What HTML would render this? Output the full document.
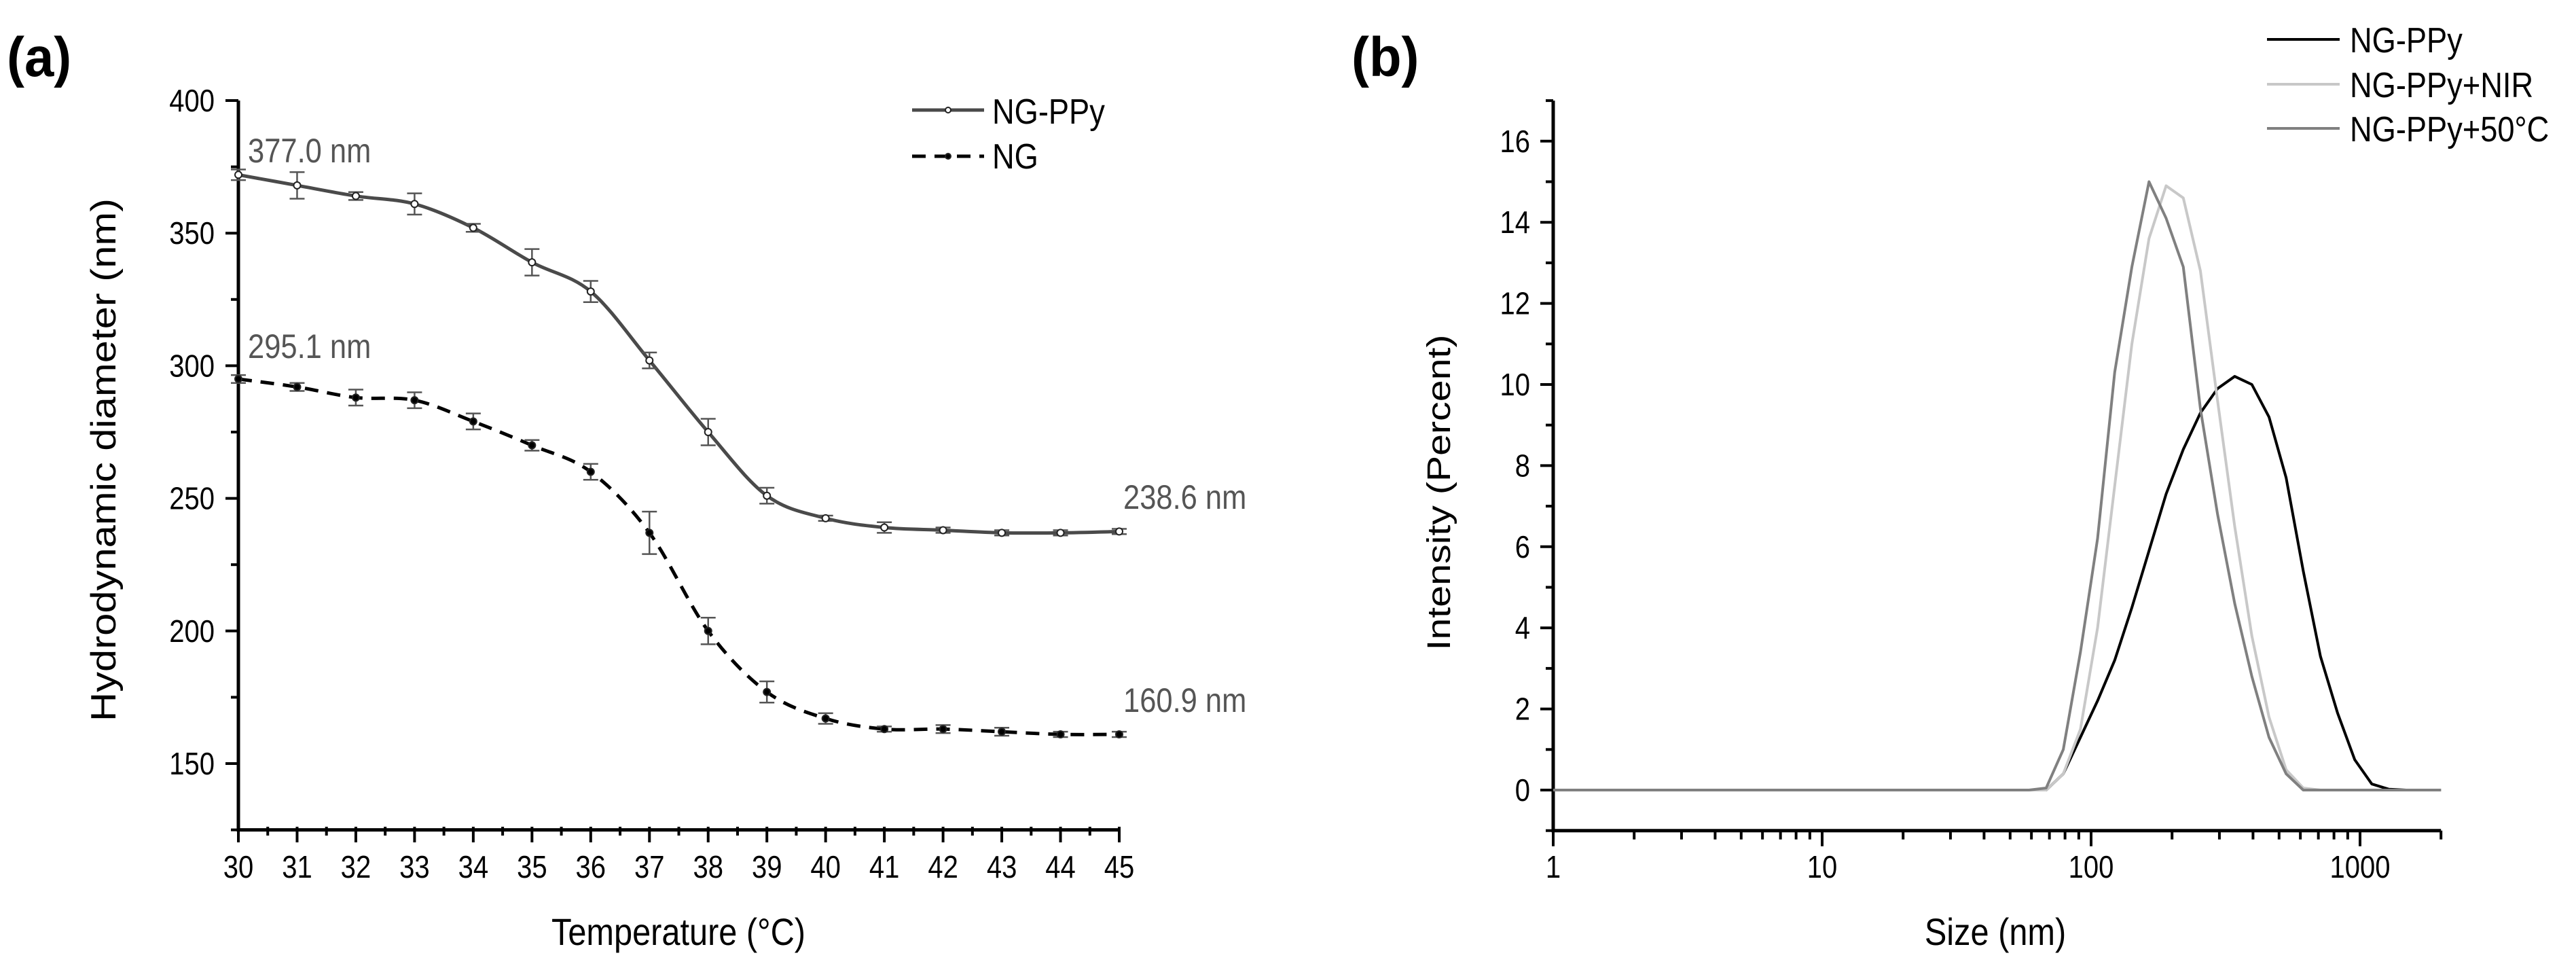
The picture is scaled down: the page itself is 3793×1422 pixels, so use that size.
<!DOCTYPE html>
<html><head><meta charset="utf-8"><style>
html,body{margin:0;padding:0;background:#fff;}
svg{display:block;font-family:"Liberation Sans",Arial,sans-serif;}
</style></head><body>
<svg id="fig" width="3793" height="1422" viewBox="0 0 3793 1422" xmlns="http://www.w3.org/2000/svg"></svg>
<script>
// ---- Panel (a) data ----
const tempsA = [30,31,32,33,34,35,36,37,38,39,40,41,42,43,44,45];
const ngppyA = [372,368,364,361,352,339,328,302,275,251,242.5,239,238,237,237,237.5];
const ngppyErr = [2,5,1.5,4,1.5,5,4,3,5,3,1,2,1,1,1,1];
const ngA = [295,292,288,287,279,270,260,237,200,177,167,163,163,162,161,161];
const ngErr = [1.5,1.5,3,3,3,2,3,8,5,4,2,1,1.5,1.5,1,1];
const yTicksA = [150,200,250,300,350,400];
const xTicksA = [30,31,32,33,34,35,36,37,38,39,40,41,42,43,44,45];
// ---- Panel (b) data ----
const sizesB = [1,58.77,68.06,78.82,91.28,105.7,122.4,141.8,164.2,190.1,220.2,255.0,295.3,342.0,396.1,458.7,531.2,615.1,712.4,825.0,955.4,1106,1281,1484,2000];
const blackB = [0,0,0,0.4,1.3,2.2,3.2,4.5,5.9,7.3,8.4,9.3,9.9,10.2,10.0,9.2,7.7,5.4,3.3,1.9,0.75,0.15,0.02,0,0];
const nirB   = [0,0,0,0.4,1.5,4.0,7.5,11.0,13.6,14.9,14.6,12.8,9.6,6.5,3.8,1.8,0.5,0.05,0,0,0,0,0,0,0];
const c50B   = [0,0,0.05,1.0,3.4,6.2,10.3,12.9,15.0,14.1,12.9,9.4,6.8,4.6,2.8,1.3,0.4,0,0,0,0,0,0,0,0];
const yTicksB = [0,2,4,6,8,10,12,14,16];
const xTicksB = [1,10,100,1000];

const NS="http://www.w3.org/2000/svg";
const svg=document.getElementById('fig');
function el(tag,attrs,parent){const e=document.createElementNS(NS,tag);for(const k in attrs)e.setAttribute(k,attrs[k]);(parent||svg).appendChild(e);return e;}
function txt(x,y,s,size,anchor,sx,fill,weight,parent){
  const t=el('text',{transform:`translate(${x},${y}) scale(${sx},1)`,'font-size':size,'text-anchor':anchor,fill:fill||'#000','font-weight':weight||'normal'},parent);
  t.textContent=s;return t;}

const xA=v=>351+(v-30)*(1648-351)/15;
const yA=v=>148+(400-v)*(1124-148)/250;
const xB=v=>2287+Math.log10(v)*396;
const yB=v=>1163-v*59.7;

// ---------- Panel (a) ----------
const gA=el('g',{});


const la=txt(10,112,'(a)',82,'start',0.95,'#000','bold',gA);

const axA=el('path',{d:`M351,148 V${yA(125)} H1648`,stroke:'#000','stroke-width':5,fill:'none'},gA);

for(let v=125;v<=400;v+=25){
  const major=v%50===0;
  const tk=el('line',{x1:351,x2:major?332:340,y1:yA(v),y2:yA(v),stroke:'#000','stroke-width':4},gA);
  
}
yTicksA.forEach(v=>{const t=txt(316,yA(v)+16,String(v),46,'end',0.87,'#000','normal',gA);
  });
for(let v=30;v<=45;v+=0.5){
  const major=Number.isInteger(v);
  const tk=el('line',{x1:xA(v),x2:xA(v),y1:1217,y2:major?1240:1230,stroke:'#000','stroke-width':4},gA);
  
}
xTicksA.forEach(v=>{const t=txt(xA(v),1292,String(v),46,'middle',0.87,'#000','normal',gA);
  });
const xtA=txt(999,1391,'Temperature (°C)',56,'middle',0.87,'#000','normal',gA);

const ytA=el('text',{transform:'translate(170,677) rotate(-90)','font-size':52,'text-anchor':'middle',textLength:770,lengthAdjust:'spacingAndGlyphs'},gA);
ytA.textContent='Hydrodynamic diameter (nm)';


function smoothPath(xs,ys){
  const p=xs.map((x,i)=>[x,ys[i]]);let d=`M${p[0][0]},${p[0][1]}`;
  for(let i=0;i<p.length-1;i++){
    const p0=p[Math.max(0,i-1)],p1=p[i],p2=p[i+1],p3=p[Math.min(p.length-1,i+2)];
    const c1=[p1[0]+(p2[0]-p0[0])/6,p1[1]+(p2[1]-p0[1])/6];
    const c2=[p2[0]-(p3[0]-p1[0])/6,p2[1]-(p3[1]-p1[1])/6];
    d+=` C${c1[0]},${c1[1]} ${c2[0]},${c2[1]} ${p2[0]},${p2[1]}`;}
  return d;}
function seriesA(vals,errs,color,dash,fillMarker,name){
  const g=el('g',{},gA);
  
  const ln=el('path',{d:smoothPath(tempsA.map(xA),vals.map(yA)),stroke:color,'stroke-width':5,fill:'none','stroke-dasharray':dash},g);
  
  tempsA.forEach((t,i)=>{
    const x=xA(t),y1=yA(vals[i]+errs[i]),y2=yA(vals[i]-errs[i]);
    const eb=el('path',{d:`M${x},${y1} V${y2} M${x-11},${y1} H${x+11} M${x-11},${y2} H${x+11}`,stroke:'#555','stroke-width':2.5,fill:'none'},g);
    
    const m=el('circle',{cx:x,cy:yA(vals[i]),r:5,fill:fillMarker,stroke:'#222','stroke-width':2},g);
    
  });
}
seriesA(ngppyA,ngppyErr,'#4a4a4a','none','#fff','ngppy-series');
seriesA(ngA,ngErr,'#000','20,13','#000','ng-series');
[['377.0 nm',365,239],['295.1 nm',365,527],['238.6 nm',1654,749],['160.9 nm',1654,1048]].forEach(a=>{
  const t=txt(a[1],a[2],a[0],50,'start',0.87,'#555','normal',gA);
  });
const lgA=el('g',{},gA);

const l1=el('line',{x1:1343,x2:1449,y1:162,y2:162,stroke:'#4a4a4a','stroke-width':5},lgA);

el('circle',{cx:1396,cy:162,r:4,fill:'#fff',stroke:'#222','stroke-width':2},lgA);
const l2=el('line',{x1:1343,x2:1449,y1:230,y2:230,stroke:'#000','stroke-width':5,'stroke-dasharray':'20,13'},lgA);

el('circle',{cx:1396,cy:230,r:4,fill:'#000',stroke:'#222','stroke-width':2},lgA);
const lt1=txt(1461,182,'NG-PPy',52,'start',0.87,'#000','normal',lgA);

const lt2=txt(1461,248,'NG',52,'start',0.87,'#000','normal',lgA);


// ---------- Panel (b) ----------
const gB=el('g',{});

const lb=txt(1990,112,'(b)',82,'start',0.95,'#000','bold',gB);

const axB=el('path',{d:`M2287,${yB(17)} V${yB(-1)} H${xB(2000)}`,stroke:'#000','stroke-width':5,fill:'none'},gB);

for(let v=-1;v<=17;v++){
  const major=v%2===0;
  const tk=el('line',{x1:2287,x2:major?2268:2276,y1:yB(v),y2:yB(v),stroke:'#000','stroke-width':4},gB);
  
}
yTicksB.forEach(v=>{const t=txt(2253,yB(v)+16,String(v),46,'end',0.87,'#000','normal',gB);
  });
for(let d=1;d<=1000;d*=10){for(let k=1;k<=9;k++){const v=d*k;if(v>2000)break;
  const tk=el('line',{x1:xB(v),x2:xB(v),y1:yB(-1),y2:yB(-1)+(k===1?23:13),stroke:'#000','stroke-width':4},gB);
  }}
xTicksB.forEach(v=>{const t=txt(xB(v),1292,String(v),46,'middle',0.87,'#000','normal',gB);
  });
const xtB=txt(2938,1391,'Size (nm)',56,'middle',0.87,'#000','normal',gB);

const ytB=el('text',{transform:'translate(2135,725) rotate(-90)','font-size':48,'text-anchor':'middle',textLength:465,lengthAdjust:'spacingAndGlyphs'},gB);
ytB.textContent='Intensity (Percent)';

function seriesB(vals,color,name){
  const pts=sizesB.map((s,i)=>`${xB(s)},${yB(vals[i])}`).join(' ');
  const p=el('polyline',{points:pts,stroke:color,'stroke-width':4,fill:'none','stroke-linejoin':'round'},gB);
  }
seriesB(blackB,'#000','ngppy-dls-line');
seriesB(nirB,'#c8c8c8','ngppy-nir-dls-line');
seriesB(c50B,'#808080','ngppy-50c-dls-line');
const lgB=el('g',{},gB);

[['NG-PPy','#000',58],['NG-PPy+NIR','#c8c8c8',124],['NG-PPy+50°C','#808080',189]].forEach(e=>{
  const l=el('line',{x1:3338,x2:3445,y1:e[2],y2:e[2],stroke:e[1],'stroke-width':4},lgB);
  
  const t=txt(3460,e[2]+19,e[0],52,'start',0.87,'#000','normal',lgB);
  });
</script>
</body></html>
